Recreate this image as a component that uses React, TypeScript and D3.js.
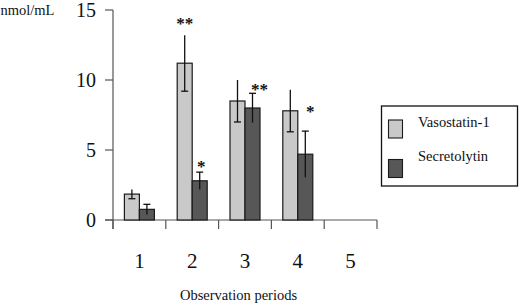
import React from "react";
import * as d3 from "d3";

const periods = ["1", "2", "3", "4", "5"];
const seriesNames = ["Vasostatin-1", "Secretolytin"];
const vasostatin = [1.85, 11.2, 8.5, 7.8, null];
const vasostatinErr = [0.33, 2.0, 1.5, 1.5, null];
const secretolytin = [0.76, 2.8, 8.0, 4.7, null];
const secretolytinErr = [0.36, 0.62, 1.05, 1.65, null];
const yTicks = [0, 5, 10, 15];
// significance markers: [period, series index, label, level in nmol/mL]
const stars: [string, number, string, number][] = [
  ["2", 0, "**", 14.3],
  ["2", 1, "*", 4.1],
  ["3", 1, "**", 9.6],
  ["4", 1, "*", 8.0],
];

const W = 520;
const H = 306;
const FONT = "'Liberation Serif', 'Times New Roman', serif";
const fills = ["#c9c9c9", "#575757"];
const starDx = [0, 1.5, 7, 5];

export default function App() {
  const y = d3.scaleLinear().domain([0, 15]).range([220, 10]);
  const x = d3.scaleBand().domain(periods).range([113, 377]);
  const inner = d3.scaleBand().domain(["0", "1"]).range([0, 30]);
  const off = (x.bandwidth() - 30) / 2;
  const values = [vasostatin, secretolytin];
  const errs = [vasostatinErr, secretolytinErr];
  const axisColor = "#555";
  const boundaries = d3.range(periods.length + 1).map((i) => 113 + i * x.step());

  return (
    <svg width={W} height={H} style={{ position: "absolute", left: 0, top: 0, background: "#fff" }} fontFamily={FONT}>
      <rect width={W} height={H} fill="#fff" />
      {/* y axis */}
      <line x1={113} x2={113} y1={y(15)} y2={229} stroke={axisColor} strokeWidth={1.2} />
      {yTicks.map((t) => (
        <g key={t}>
          <line x1={105} x2={113} y1={y(t)} y2={y(t)} stroke={axisColor} strokeWidth={1.2} />
          <text x={96} y={y(t)} dy="0.34em" textAnchor="end" fontSize={20} fill="#111">
            {t}
          </text>
        </g>
      ))}
      {/* x axis */}
      <line x1={105} x2={377} y1={y(0)} y2={y(0)} stroke={axisColor} strokeWidth={1.2} />
      {boundaries.map((b, i) => (
        <line key={i} x1={b} x2={b} y1={y(0)} y2={229} stroke={axisColor} strokeWidth={1.2} />
      ))}
      {periods.map((p) => (
        <text key={p} x={(x(p) as number) + x.bandwidth() / 2} y={268} textAnchor="middle" fontSize={21} fill="#111">
          {p}
        </text>
      ))}
      {/* bars */}
      {values.map((vals, s) =>
        periods.map((p, i) => {
          const v = vals[i];
          if (v == null) return null;
          const bx = (x(p) as number) + off + (inner(String(s)) as number);
          const bw = inner.bandwidth();
          return (
            <rect key={s + "-" + p} x={bx} y={y(v)} width={bw} height={y(0) - y(v)} fill={fills[s]} stroke="#1a1a1a" strokeWidth={1.2} />
          );
        })
      )}
      {/* error bars */}
      {values.map((vals, s) =>
        periods.map((p, i) => {
          const v = vals[i];
          const e = errs[s][i];
          if (v == null || e == null) return null;
          const cx = (x(p) as number) + off + (inner(String(s)) as number) + inner.bandwidth() / 2;
          const capY = s === 0 ? y(v - e) : y(v + e);
          return (
            <g key={"e" + s + "-" + p} stroke="#111" strokeWidth={1.3}>
              <line x1={cx} x2={cx} y1={y(v + e)} y2={y(v - e)} />
              <line x1={cx - 3.5} x2={cx + 3.5} y1={capY} y2={capY} />
            </g>
          );
        })
      )}
      {/* significance stars */}
      {stars.map(([p, s, lab, lvl], i) => {
        const cx = (x(p) as number) + off + (inner(String(s)) as number) + inner.bandwidth() / 2 + starDx[i];
        return (
          <text key={"s" + i} x={cx} y={y(lvl) + 9} textAnchor="middle" fontSize={17} fontWeight="bold" fill="#111">
            {lab}
          </text>
        );
      })}
      {/* axis titles */}
      <text x={0.5} y={15} fontSize={14.5} fill="#111">
        nmol/mL
      </text>
      <text x={238.5} y={300} textAnchor="middle" fontSize={14.5} fill="#111">
        Observation periods
      </text>
      {/* legend */}
      <rect x={381.5} y={106} width={136} height={80} fill="#fff" stroke="#111" strokeWidth={1.3} />
      {seriesNames.map((n, i) => (
        <g key={n}>
          <rect x={388.5} y={120 + i * 39.5} width={14} height={18} fill={fills[i]} stroke="#1a1a1a" strokeWidth={1.1} />
          <text x={418} y={127 + i * 34} fontSize={14.5} fill="#111">
            {n}
          </text>
        </g>
      ))}
    </svg>
  );
}
